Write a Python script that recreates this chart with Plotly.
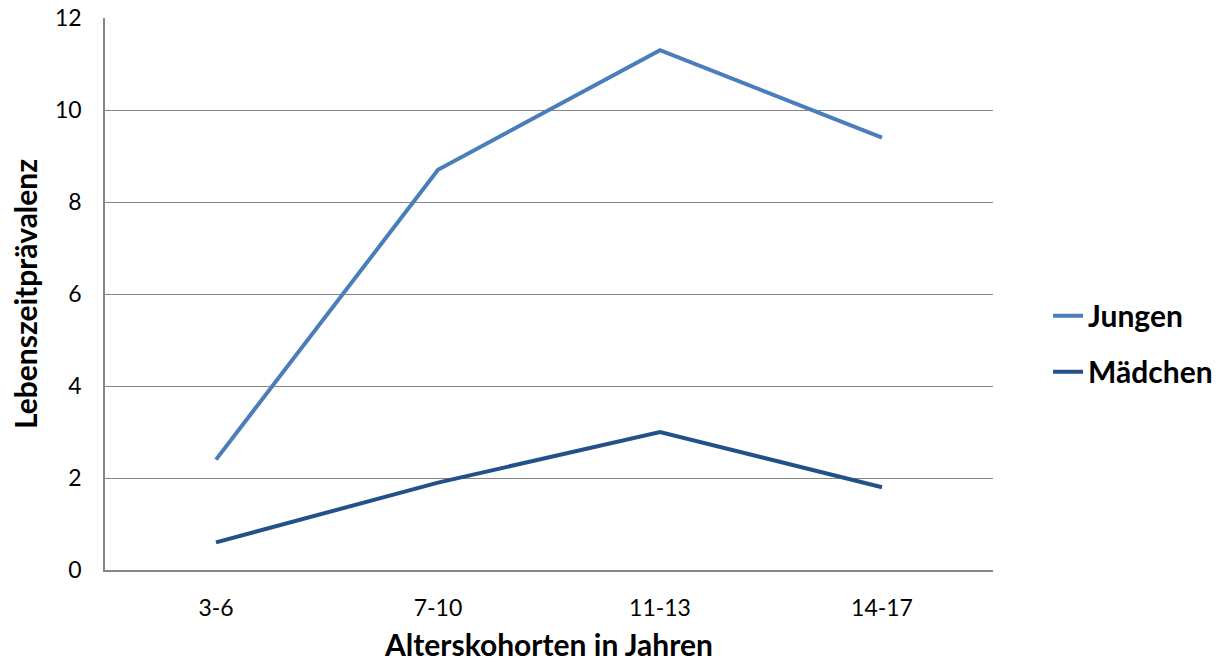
import plotly.graph_objects as go

categories = ["3-6", "7-10", "11-13", "14-17"]
jungen = [2.4, 8.7, 11.3, 9.4]
maedchen = [0.6, 1.9, 3.0, 1.8]
y_ticks = [0, 2, 4, 6, 8, 10, 12]

FONT = "Lato, 'Open Sans', sans-serif"

fig = go.Figure()
fig.add_trace(go.Scatter(x=categories, y=jungen, mode="lines", name="Jungen",
                         legendgroup="j",
                         line=dict(color="#4A7EBB", width=4)))
fig.add_trace(go.Scatter(x=categories, y=maedchen, mode="lines", name="Mädchen",
                         legendgroup="m",
                         line=dict(color="#24508A", width=4)))

fig.update_layout(
    width=1216, height=662,
    margin=dict(l=105, r=223, t=18, b=92, autoexpand=False),
    paper_bgcolor="white", plot_bgcolor="white",
    font=dict(family=FONT, color="#000000", size=23),
    showlegend=True,
    legend=dict(x=1.062, y=0.41, xanchor="left", yanchor="middle",
                traceorder="grouped",
                font=dict(family=FONT, size=30, color="#000000", weight="bold"),
                tracegroupgap=14, itemwidth=30, bgcolor="rgba(0,0,0,0)"),
)
fig.update_xaxes(
    type="category", range=[-0.5, 3.5], automargin=False,
    showgrid=False, showline=True, linecolor="#868686", linewidth=1.5,
    ticks="", ticklabelstandoff=17, ticklabeloverflow="allow",
    tickfont=dict(size=23, family=FONT),
    title=dict(text="<b>Alterskohorten in Jahren</b>", standoff=21,
               font=dict(size=30, family=FONT)),
    zeroline=False, mirror=False,
)
fig.update_yaxes(
    range=[0, 12], tickvals=y_ticks, automargin=False,
    showgrid=True, gridcolor="#868686", gridwidth=1,
    showline=True, linecolor="#868686", linewidth=1.5,
    ticks="", ticklabelstandoff=17, ticklabeloverflow="allow",
    tickfont=dict(size=23, family=FONT),
    title=dict(text="<b>Lebenszeitprävalenz</b>", standoff=8,
               font=dict(size=30, family=FONT)),
    zeroline=False,
)

fig.write_html("out.html", config={"displayModeBar": False},
               post_script="document.body.style.margin='0';")
